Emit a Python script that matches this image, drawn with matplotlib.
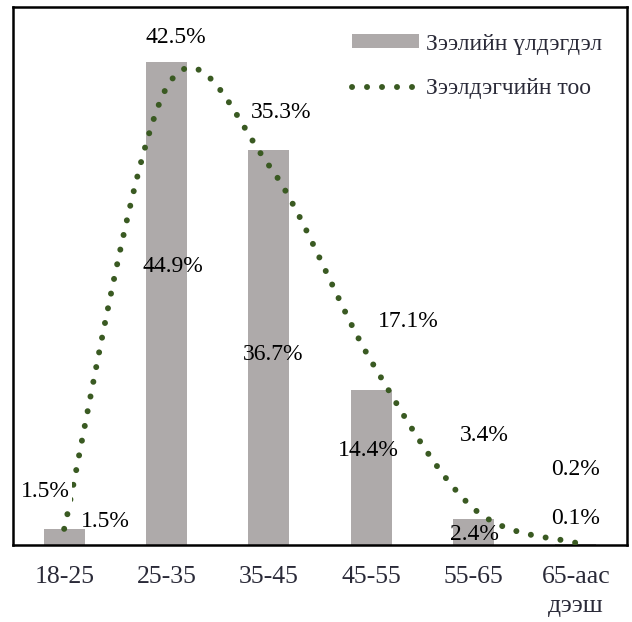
import numpy as np
import matplotlib
matplotlib.use("Agg")
import matplotlib.pyplot as plt

plt.rcParams['font.family'] = ['Liberation Serif', 'DejaVu Serif']

categories = ['18-25', '25-35', '35-45', '45-55', '55-65', '65-аас\nдээш']
loan_balance = [1.5, 44.9, 36.7, 14.4, 2.4, 0.1]     # bars
borrowers = [1.5, 42.5, 35.3, 17.1, 3.4, 0.2]        # dotted line

# label offsets in pixels (dx, dy) from bar top / line point
bar_lbl_off = [(41, 7), (6, -205), (4, -204), (-3, -60), (1, -15), (0, 25)]
line_lbl_off = [(-19, 37), (9, 50), (12, 53), (37, 39), (11, 73), (0, 73)]

BAR_COLOR = '#aeaaaa'
LINE_COLOR = '#3a5a22'
TEXT_COLOR = '#2a2a38'


def excel_smooth(xs, ys, n=60):
    # cubic bezier through points, control points like excel's smoothed line
    pts = np.column_stack([xs, ys]).astype(float)
    ext = np.vstack([pts[0], pts, pts[-1]])
    out = []
    t = np.linspace(0, 1, n)[:, None]
    for i in range(len(pts) - 1):
        p0 = ext[i + 1]
        p3 = ext[i + 2]
        c1 = p0 + (ext[i + 2] - ext[i]) / 6
        c2 = p3 - (ext[i + 3] - ext[i + 1]) / 6
        seg = ((1 - t) ** 3) * p0 + 3 * ((1 - t) ** 2) * t * c1 + 3 * (1 - t) * t ** 2 * c2 + t ** 3 * p3
        out.append(seg if i == 0 else seg[1:])
    out = np.vstack(out)
    return out[:, 0], out[:, 1]


fig = plt.figure(figsize=(6.32, 6.22), dpi=100)
ax = fig.add_axes([0.0206, 0.1238, 0.9714, 0.865])

x = np.arange(len(categories))
bars = ax.bar(x, loan_balance, width=0.4, color=BAR_COLOR, zorder=2,
              label='Зээлийн үлдэгдэл')

sx, sy = excel_smooth(x, borrowers)
line, = ax.plot(sx, sy, color=LINE_COLOR, lw=4.3, linestyle=(0, (0.01, 2.5)),
                dash_capstyle='round', zorder=3, label='Зээлдэгчийн тоо')

for xi, v, (dx, dy) in zip(x, loan_balance, bar_lbl_off):
    ax.annotate(f'{v}%', (xi, v), xytext=(dx, dy), textcoords='offset pixels',
                ha='center', va='center', fontsize=17, color='black', zorder=4)

for xi, v, (dx, dy) in zip(x, borrowers, line_lbl_off):
    ax.annotate(f'{v}%', (xi, v), xytext=(dx, dy), textcoords='offset pixels',
                ha='center', va='center', fontsize=17, color='black', zorder=5,
                bbox=dict(boxstyle='square,pad=0.1', fc='white', ec='none'),
                annotation_clip=False)

ax.set_xlim(-0.5, len(categories) - 0.5)
ax.set_ylim(0, 50)
ax.set_yticks([])
ax.set_xticks(x)
ax.set_xticklabels(categories, fontsize=18.5, color=TEXT_COLOR, linespacing=1.45)
ax.tick_params(axis='x', length=0, pad=15)
for s in ax.spines.values():
    s.set_color('black')
    s.set_linewidth(1.8)

ax.legend(handles=[bars, line], loc='upper right', bbox_to_anchor=(0.994, 0.99),
          frameon=False, fontsize=17, handlelength=2.85, handleheight=0.5,
          labelspacing=1.0, handletextpad=0.3, labelcolor=TEXT_COLOR)

fig.savefig('out.png', dpi=100, facecolor='white')
